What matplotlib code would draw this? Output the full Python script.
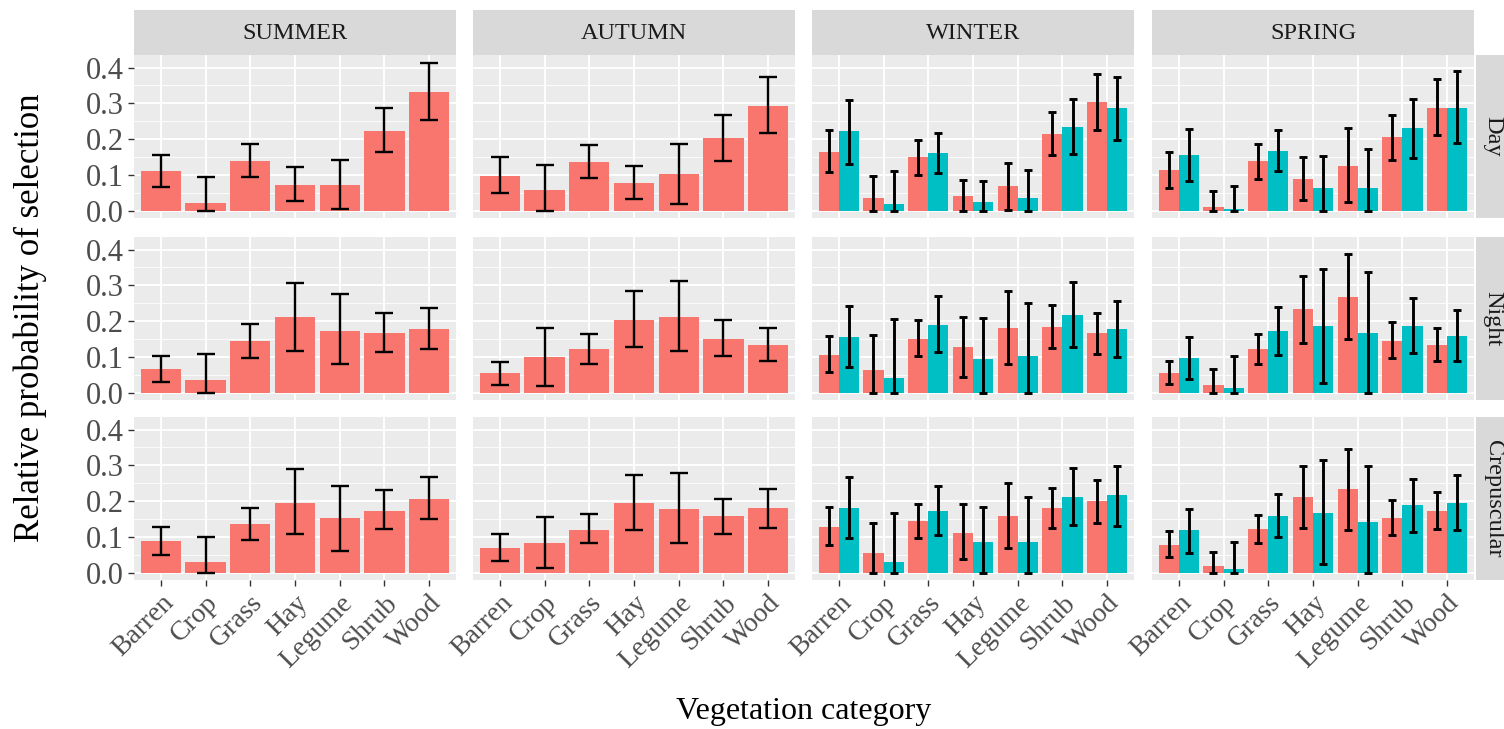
import matplotlib
matplotlib.use("Agg")
import matplotlib.pyplot as plt
from matplotlib.ticker import MultipleLocator

W, H, DPI = 1504, 729, 100

categories = ["Barren", "Crop", "Grass", "Hay", "Legume", "Shrub", "Wood"]
seasons = ["SUMMER", "AUTUMN", "WINTER", "SPRING"]
periods = ["Day", "Night", "Crepuscular"]
group_colors = ["#F8766D", "#00BFC4"]

# ---- Day ----
summer_day = dict(mean=[0.110, 0.023, 0.140, 0.073, 0.073, 0.224, 0.332],
                  lo=[0.066, 0.000, 0.094, 0.027, 0.006, 0.163, 0.254],
                  hi=[0.156, 0.094, 0.186, 0.121, 0.142, 0.288, 0.414])
autumn_day = dict(mean=[0.098, 0.058, 0.137, 0.078, 0.103, 0.203, 0.293],
                  lo=[0.050, 0.000, 0.092, 0.032, 0.018, 0.140, 0.217],
                  hi=[0.151, 0.128, 0.183, 0.125, 0.186, 0.268, 0.373])
winter_day_1 = dict(mean=[0.165, 0.035, 0.151, 0.041, 0.069, 0.215, 0.305],
                    lo=[0.108, 0.000, 0.101, 0.000, 0.003, 0.156, 0.226],
                    hi=[0.226, 0.096, 0.197, 0.087, 0.133, 0.275, 0.383])
winter_day_2 = dict(mean=[0.222, 0.018, 0.162, 0.026, 0.035, 0.235, 0.288],
                    lo=[0.131, 0.000, 0.105, 0.000, 0.000, 0.160, 0.197],
                    hi=[0.308, 0.110, 0.217, 0.082, 0.114, 0.311, 0.373])
spring_day_1 = dict(mean=[0.113, 0.011, 0.139, 0.089, 0.126, 0.206, 0.288],
                    lo=[0.064, 0.000, 0.089, 0.030, 0.025, 0.142, 0.212],
                    hi=[0.163, 0.055, 0.186, 0.149, 0.231, 0.268, 0.369])
spring_day_2 = dict(mean=[0.157, 0.005, 0.167, 0.064, 0.064, 0.231, 0.288],
                    lo=[0.084, 0.000, 0.110, 0.000, 0.000, 0.148, 0.190],
                    hi=[0.229, 0.070, 0.227, 0.154, 0.174, 0.313, 0.391])

# ---- Night ----
summer_night = dict(mean=[0.067, 0.037, 0.144, 0.213, 0.174, 0.167, 0.178],
                    lo=[0.031, 0.000, 0.097, 0.118, 0.081, 0.114, 0.122],
                    hi=[0.102, 0.109, 0.193, 0.306, 0.275, 0.222, 0.236])
autumn_night = dict(mean=[0.056, 0.100, 0.123, 0.204, 0.213, 0.151, 0.134],
                    lo=[0.023, 0.019, 0.081, 0.127, 0.118, 0.102, 0.088],
                    hi=[0.086, 0.182, 0.165, 0.284, 0.312, 0.204, 0.182])
winter_night_1 = dict(mean=[0.106, 0.065, 0.151, 0.128, 0.181, 0.185, 0.167],
                      lo=[0.057, 0.000, 0.102, 0.044, 0.081, 0.125, 0.108],
                      hi=[0.159, 0.162, 0.204, 0.211, 0.284, 0.245, 0.222])
winter_night_2 = dict(mean=[0.157, 0.042, 0.190, 0.095, 0.102, 0.218, 0.178],
                      lo=[0.071, 0.000, 0.114, 0.000, 0.000, 0.128, 0.099],
                      hi=[0.241, 0.206, 0.270, 0.208, 0.252, 0.310, 0.257])
spring_night_1 = dict(mean=[0.056, 0.023, 0.123, 0.233, 0.267, 0.146, 0.134],
                      lo=[0.025, 0.000, 0.081, 0.139, 0.151, 0.097, 0.088],
                      hi=[0.088, 0.067, 0.165, 0.327, 0.387, 0.199, 0.182])
spring_night_2 = dict(mean=[0.097, 0.014, 0.173, 0.187, 0.167, 0.187, 0.160],
                      lo=[0.039, 0.000, 0.105, 0.028, 0.000, 0.111, 0.088],
                      hi=[0.156, 0.104, 0.239, 0.345, 0.338, 0.264, 0.231])

# ---- Crepuscular ----
summer_crep = dict(mean=[0.089, 0.029, 0.135, 0.195, 0.152, 0.174, 0.207],
                   lo=[0.050, 0.000, 0.092, 0.108, 0.060, 0.122, 0.149],
                   hi=[0.128, 0.099, 0.182, 0.289, 0.243, 0.230, 0.267])
autumn_crep = dict(mean=[0.068, 0.083, 0.120, 0.195, 0.179, 0.159, 0.180],
                   lo=[0.032, 0.014, 0.082, 0.119, 0.082, 0.108, 0.126],
                   hi=[0.108, 0.156, 0.163, 0.272, 0.278, 0.207, 0.234])
winter_crep_1 = dict(mean=[0.129, 0.055, 0.145, 0.112, 0.160, 0.180, 0.200],
                     lo=[0.077, 0.000, 0.097, 0.039, 0.069, 0.126, 0.140],
                     hi=[0.184, 0.138, 0.193, 0.193, 0.251, 0.237, 0.260])
winter_crep_2 = dict(mean=[0.182, 0.031, 0.174, 0.085, 0.085, 0.212, 0.217],
                     lo=[0.097, 0.000, 0.106, 0.000, 0.000, 0.133, 0.131],
                     hi=[0.267, 0.166, 0.241, 0.184, 0.212, 0.294, 0.299])
spring_crep_1 = dict(mean=[0.078, 0.018, 0.122, 0.212, 0.234, 0.152, 0.174],
                     lo=[0.043, 0.000, 0.082, 0.126, 0.120, 0.105, 0.122],
                     hi=[0.117, 0.059, 0.161, 0.299, 0.346, 0.203, 0.226])
spring_crep_2 = dict(mean=[0.119, 0.011, 0.160, 0.168, 0.142, 0.189, 0.195],
                     lo=[0.055, 0.000, 0.099, 0.025, 0.000, 0.115, 0.120],
                     hi=[0.179, 0.087, 0.220, 0.315, 0.299, 0.263, 0.274])

panel_data = {
    ("SUMMER", "Day"): [summer_day],
    ("AUTUMN", "Day"): [autumn_day],
    ("WINTER", "Day"): [winter_day_1, winter_day_2],
    ("SPRING", "Day"): [spring_day_1, spring_day_2],
    ("SUMMER", "Night"): [summer_night],
    ("AUTUMN", "Night"): [autumn_night],
    ("WINTER", "Night"): [winter_night_1, winter_night_2],
    ("SPRING", "Night"): [spring_night_1, spring_night_2],
    ("SUMMER", "Crepuscular"): [summer_crep],
    ("AUTUMN", "Crepuscular"): [autumn_crep],
    ("WINTER", "Crepuscular"): [winter_crep_1, winter_crep_2],
    ("SPRING", "Crepuscular"): [spring_crep_1, spring_crep_2],
}

plt.rcParams["font.family"] = ["Liberation Serif", "DejaVu Serif"]

fig = plt.figure(figsize=(W / DPI, H / DPI), dpi=DPI)
fig.patch.set_facecolor("white")


def px_axes(x, y, w, h):
    return fig.add_axes([x / W, 1 - (y + h) / H, w / W, h / H])


col_left = [134, 473, 812, 1152]
panel_w = 322
row_top = [55, 237, 417]
panel_h = 163
strip_top, strip_h = 10, 45

tick_color = "#333333"
label_color = "#4D4D4D"

for r, period in enumerate(periods):
    for c, season in enumerate(seasons):
        ax = px_axes(col_left[c], row_top[r], panel_w, panel_h)
        ax.set_facecolor("#EBEBEB")
        for s in ax.spines.values():
            s.set_visible(False)
        ax.set_xlim(-0.6, len(categories) - 0.4)
        ax.set_ylim(-0.02, 0.435)
        ax.set_xticks(range(len(categories)))
        ax.yaxis.set_major_locator(MultipleLocator(0.1))
        ax.yaxis.set_minor_locator(MultipleLocator(0.05))
        ax.grid(which="major", color="white", linewidth=1.3)
        ax.grid(which="minor", axis="y", color="white", linewidth=0.6)
        ax.set_axisbelow(True)

        groups = panel_data[(season, period)]
        n = len(groups)
        width = 0.9 / n
        cap = 6.5 if n == 1 else 2.8
        lw = 1.7 if n == 1 else 2.1
        for g, d in enumerate(groups):
            off = (g - (n - 1) / 2) * width
            xs = [i + off for i in range(len(categories))]
            ax.bar(xs, d["mean"], width=width, color=group_colors[g],
                   linewidth=0, zorder=2)
            yerr = [[m - lo for m, lo in zip(d["mean"], d["lo"])],
                    [hi - m for m, hi in zip(d["mean"], d["hi"])]]
            ax.errorbar(xs, d["mean"], yerr=yerr, fmt="none", ecolor="black",
                        elinewidth=lw, capsize=cap, capthick=lw, zorder=3)

        ax.tick_params(axis="both", which="both", color=tick_color,
                       length=4, width=1, labelcolor=label_color)
        ax.tick_params(axis="y", which="minor", length=0)
        if c == 0:
            ax.set_yticklabels([f"{v:.1f}" for v in ax.get_yticks()],
                               fontsize=22)
        else:
            ax.tick_params(axis="y", which="major", length=0, labelleft=False)
        if r == len(periods) - 1:
            ax.set_xticklabels(categories, fontsize=20, rotation=45,
                               ha="right", va="top", rotation_mode="anchor")
        else:
            ax.tick_params(axis="x", length=0, labelbottom=False)

        if r == 0:
            sax = px_axes(col_left[c], strip_top, panel_w, strip_h)
            sax.set_facecolor("#D9D9D9")
            sax.set_xticks([])
            sax.set_yticks([])
            for s in sax.spines.values():
                s.set_visible(False)
            sax.text(0.5, 0.47, season, ha="center", va="center",
                     fontsize=17.5, color="#1A1A1A", transform=sax.transAxes)

    rax = px_axes(1476, row_top[r], 34, panel_h)
    rax.set_facecolor("#D9D9D9")
    rax.set_xticks([])
    rax.set_yticks([])
    for s in rax.spines.values():
        s.set_visible(False)
    rax.text(0.5, 0.5, period, ha="center", va="center", rotation=-90,
             fontsize=17.5, color="#1A1A1A", transform=rax.transAxes)

fig.text(30 / W, 1 - 318 / H, "Relative probability of selection",
         rotation=90, ha="center", va="center", fontsize=25, color="black")
fig.text(804 / W, 1 - 712 / H, "Vegetation category",
         ha="center", va="center", fontsize=23, color="black")

fig.savefig("out.png", dpi=DPI, facecolor="white")
